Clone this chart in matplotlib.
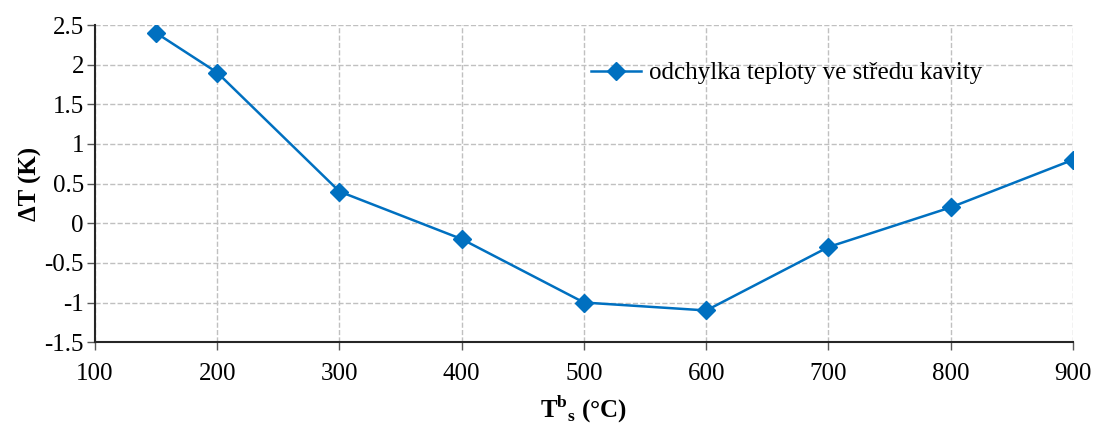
import matplotlib.pyplot as plt
import numpy as np

plt.rcParams['font.family'] = ['Liberation Serif', 'DejaVu Serif']
plt.rcParams['mathtext.fontset'] = 'custom'
plt.rcParams['mathtext.rm'] = 'Liberation Serif'
plt.rcParams['mathtext.bf'] = 'Liberation Serif:bold'

# data
teplota = [150, 200, 300, 400, 500, 600, 700, 800, 900]
odchylka = [2.4, 1.9, 0.4, -0.2, -1.0, -1.1, -0.3, 0.2, 0.8]
nazev = 'odchylka teploty ve středu kavity'

fig = plt.figure(figsize=(10.97, 4.24), dpi=100)
ax = fig.add_axes([0.0866, 0.193, 0.8915, 0.748])

ax.plot(teplota, odchylka, color='#0070C0', lw=1.8, marker='D', ms=9, label=nazev)

ax.set_xlim(100, 900)
ax.set_ylim(-1.5, 2.5)
ax.set_xticks(np.arange(100, 901, 100))
ax.set_yticks(np.arange(-1.5, 2.51, 0.5))
ax.set_yticklabels(['-1.5', '-1', '-0.5', '0', '0.5', '1', '1.5', '2', '2.5'])

ax.grid(color='#c0c0c0', linestyle='--', linewidth=1)
ax.set_axisbelow(True)
for s in ['top', 'right']:
    ax.spines[s].set_visible(False)
for s in ['left', 'bottom']:
    ax.spines[s].set_color('#262626')
    ax.spines[s].set_linewidth(1.5)
ax.tick_params(labelsize=18, direction='out', length=6, width=1, color='#595959')
ax.tick_params(axis='x', pad=9)
ax.tick_params(axis='y', pad=2)

ax.set_xlabel(r'T$^{\mathbf{b}}$$_{\mathbf{s}}$ (°C)', fontsize=18, fontweight='bold', labelpad=6)
ax.set_ylabel('ΔT (K)', fontsize=18, fontweight='bold', labelpad=2)

ax.legend(loc='upper right', bbox_to_anchor=(0.93, 0.955), frameon=False, fontsize=18,
          handlelength=2.0, handletextpad=0.3)

fig.savefig('out.png', dpi=100)
